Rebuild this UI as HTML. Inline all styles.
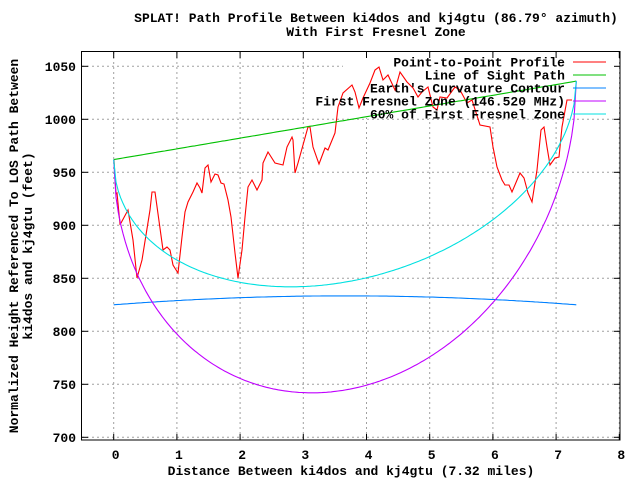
<!DOCTYPE html>
<html><head><meta charset="utf-8"><style>
body{margin:0;background:#fff}
svg{display:block}
text{font-family:"Liberation Mono","DejaVu Sans Mono",monospace;font-weight:bold;font-size:13px;fill:#000}
</style></head><body>
<svg id="s" width="640" height="480" viewBox="0 0 640 480" xmlns="http://www.w3.org/2000/svg">
<rect width="640" height="480" fill="#fff"/>
<g id="grid" stroke="#a0a0a0" stroke-width="1" stroke-dasharray="2,3"></g>
<rect x="343" y="53" width="276" height="65" fill="#fff"/>
<rect x="81.5" y="51.5" width="538.5" height="388.5" fill="none" stroke="#000"/>
<g id="ticks" stroke="#000"></g>
<g id="lbl"></g>
<text x="376" y="22" text-anchor="middle">SPLAT! Path Profile Between ki4dos and kj4gtu (86.79° azimuth)</text>
<text x="376" y="36" text-anchor="middle">With First Fresnel Zone</text>
<text x="351" y="475" text-anchor="middle">Distance Between ki4dos and kj4gtu (7.32 miles)</text>
<text transform="translate(18,246) rotate(-90)" text-anchor="middle">Normalized Height Referenced To LOS Path Between</text>
<text transform="translate(32,246) rotate(-90)" text-anchor="middle">ki4dos and kj4gtu (feet)</text>
<g id="curves" fill="none" stroke-width="1.1"></g>
<g id="leg"></g>
</svg>
<script>
var NS="http://www.w3.org/2000/svg";
function X(d){return 113.7+63.2*d}
function Y(v){return 66.3+(1050-v)*1.06}
function el(p,t,a,txt){var e=document.createElementNS(NS,t);for(var k in a)e.setAttribute(k,a[k]);if(txt!=null)e.textContent=txt;document.getElementById(p).appendChild(e);return e}
for(var i=0;i<=8;i++){var x=X(i);
 el("grid","line",{x1:x,y1:52,x2:x,y2:440});
 el("ticks","line",{x1:x,y1:440,x2:x,y2:434});el("ticks","line",{x1:x,y1:52,x2:x,y2:58});
 el("lbl","text",{x:x+2,y:459,"text-anchor":"middle"},String(i));}
for(var v=700;v<=1050;v+=50){var y=Y(v);
 el("grid","line",{x1:82,y1:y,x2:620,y2:y});
 el("ticks","line",{x1:82,y1:y,x2:88,y2:y});el("ticks","line",{x1:620,y1:y,x2:614,y2:y});
 el("lbl","text",{x:76,y:y+4.5,"text-anchor":"end"},String(v));}
var D=7.32;
function los(d){return 962+(1036-962)*d/D}
function pts(f){var s=[];for(var i=0;i<=200;i++){var d=D*i/200;s.push(X(d).toFixed(1)+","+Y(f(d)).toFixed(1))}return s.join(" ")}
var red="114,160 116,194 117,193 120,224 121,223 128,210 133,240 137,278 142,260 150,210 152,192 155,192 163,250 167,247 170,250 173,265 178,273 182,237 185,212 188,202 193,192 197,183 200,188 202,193 205,168 208,165 211,182 215,174 218,175 221,183 224,184 228,200 231,217 235,253 238,278 242,250 245,217 248,187 252,180 257,190 262,180 263,163 268,152 275,163 283,165 287,147 292,137 293,140 295,173 298,163 303,145 308,127 310,127 313,147 319,164 325,148 328,150 335,133 338,107 343,93 352,85 355,92 359,108 363,98 370,83 375,70 379,67 383,80 388,75 395,90 400,72 407,82 413,88 418,97 422,92 428,87 433,107 437,110 440,97 447,98 455,87 460,90 467,103 472,100 480,125 490,127 493,147 497,167 502,180 505,185 509,185 512,192 520,173 524,178 528,193 532,202 537,170 541,130 544,127 547,147 550,165 555,158 559,157 562,127 567,100 572,100";
el("curves","polyline",{points:red,stroke:"#ff0000"});
el("curves","polyline",{points:pts(los),stroke:"#00c000"});
el("curves","polyline",{points:pts(function(d){return 825+0.63*d*(D-d)}),stroke:"#0080ff"});
el("curves","polyline",{points:pts(function(d){return los(d)-69.5*Math.sqrt(d*(D-d))}),stroke:"#c000ff"});
el("curves","polyline",{points:pts(function(d){return los(d)-0.6*69.5*Math.sqrt(d*(D-d))}),stroke:"#00e0e0"});
var L=[["Point-to-Point Profile","#ff0000"],["Line of Sight Path","#00c000"],["Earth's Curvature Contour","#0080ff"],["First Fresnel Zone (146.520 MHz)","#c000ff"],["60% of First Fresnel Zone","#00e0e0"]];
for(var i=0;i<L.length;i++){var y=62+13*i;
 el("leg","text",{x:565,y:y+4.5,"text-anchor":"end"},L[i][0]);
 el("leg","line",{x1:573,y1:y,x2:606,y2:y,stroke:L[i][1]});}
</script>
</body></html>
